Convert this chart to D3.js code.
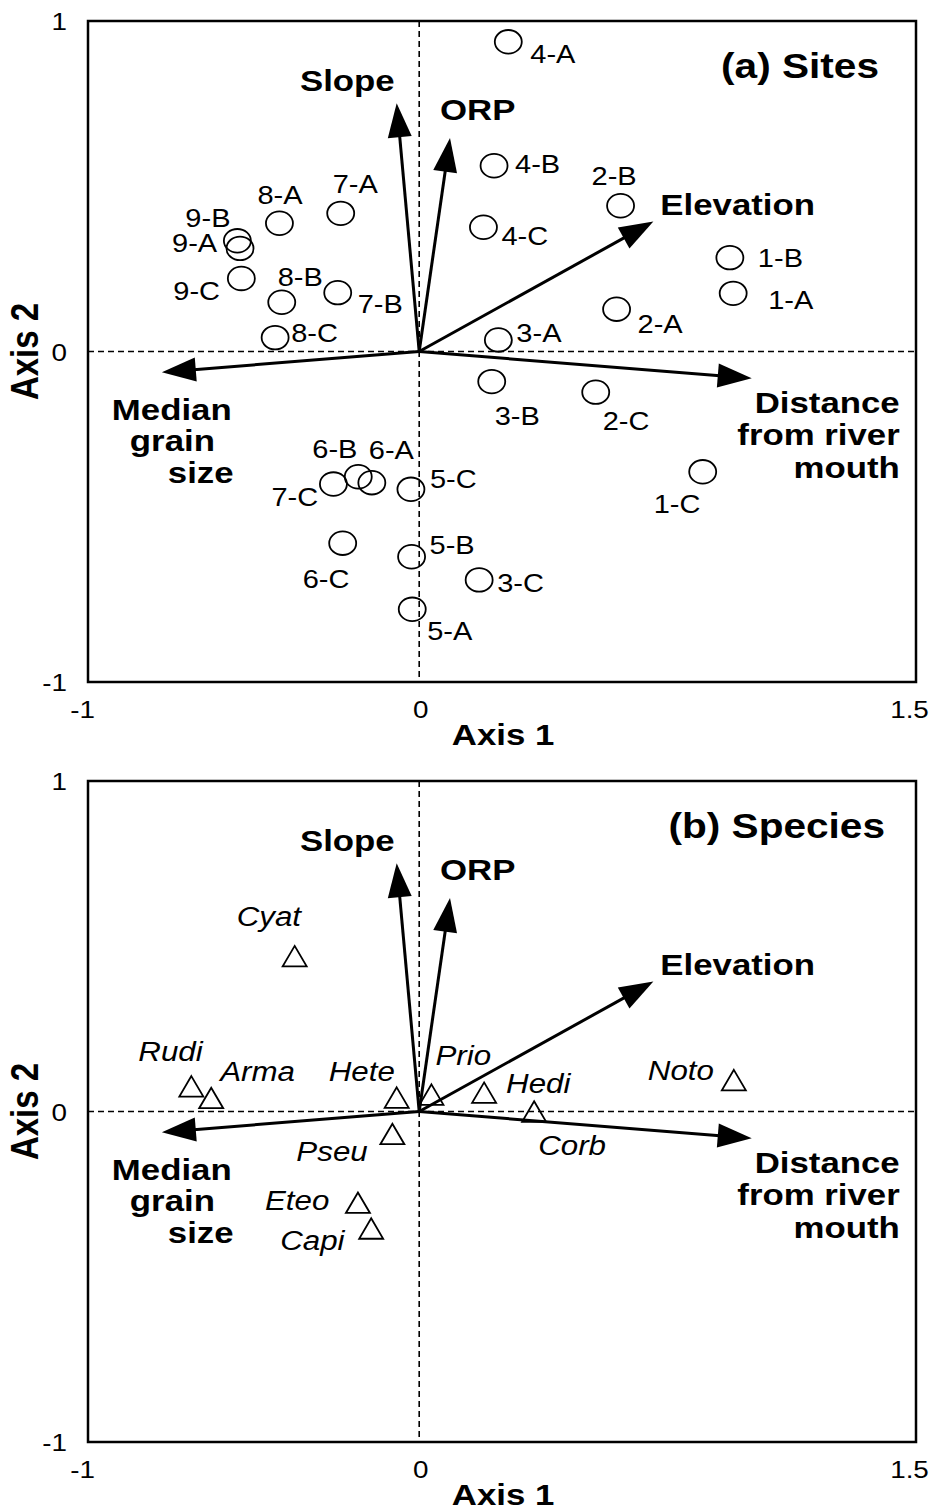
<!DOCTYPE html>
<html>
<head>
<meta charset="utf-8">
<script src="https://cdn.jsdelivr.net/npm/d3@7"></script>
<style>
body { margin: 0; background: #fff; }
text { font-family: "Liberation Sans", Arial, sans-serif; fill: #000; }
</style>
</head>
<body>
<div class="chart"></div>
<script>
// site scores (panel a)
const siteNames = ['1-A','1-B','1-C','2-A','2-B','2-C','3-A','3-B','3-C',
                   '4-A','4-B','4-C','5-A','5-B','5-C','6-A','6-B','6-C',
                   '7-A','7-B','7-C','8-A','8-B','8-C','9-A','9-B','9-C'];
const siteAxis1 = [0.948, 0.938, 0.856, 0.596, 0.608, 0.533, 0.239, 0.219, 0.181,
                   0.269, 0.226, 0.194, -0.021, -0.023, -0.025, -0.143, -0.184, -0.231,
                   -0.237, -0.246, -0.259, -0.422, -0.415, -0.435, -0.541, -0.549, -0.537];
const siteAxis2 = [0.176, 0.284, -0.364, 0.128, 0.441, -0.123, 0.035, -0.091, -0.691,
                   0.937, 0.562, 0.376, -0.780, -0.621, -0.417, -0.397, -0.379, -0.580,
                   0.418, 0.178, -0.401, 0.388, 0.149, 0.042, 0.312, 0.335, 0.221];

// species scores (panel b)
const speciesNames = ['Cyat','Rudi','Arma','Hete','Prio','Hedi','Corb','Noto','Pseu','Eteo','Capi'];
const speciesAxis1 = [-0.376, -0.688, -0.628, -0.068, 0.037, 0.196, 0.347, 0.950, -0.081, -0.185, -0.145];
const speciesAxis2 = [0.470, 0.076, 0.041, 0.042, 0.051, 0.057, 0.000, 0.095, -0.068, -0.276, -0.354];

// environmental vectors (same in both panels)
const envNames = ['Slope','ORP','Elevation','Distance from river mouth','Median grain size'];
const envAxis1 = [-0.068, 0.093, 0.707, 1.004, -0.777];
const envAxis2 = [0.751, 0.646, 0.393, -0.081, -0.063];

// tick values
const xTicks = [-1, 0, 1.5];
const yTicks = [-1, 0, 1];

// label placement, px from the mark
const siteLabelShift = [[35,16],[28,9],[-49,41],[21,24],[-29,-21],[7,38],[18,2],[3,43],[18,12],
                        [22,21],[21,7],[18,18],[15,31],[18,-3],[19,-1],[-3,-24],[-46,-19],[-40,45],
                        [-8,-20],[20,20],[-62,22],[-22,-19],[-4,-16],[16,4],[-68,4],[-52,-14],[-68,22]];
const speciesLabelShift = [[-58,-30],[-53,-25],[9,-17],[-68,-17],[4,-30],[22,0],[4,43],[-86,0],[-96,27],[-93,7],[-91,22]];
const envLabelLayout = [
  {anchor: 'end',   lines: [['Slope', -2, -12]]},
  {anchor: 'start', lines: [['ORP', -10, -18]]},
  {anchor: 'start', lines: [['Elevation', 7, -7]]},
  {anchor: 'end',   lines: [['Distance', 148, 35], ['from river', 148, 67], ['mouth', 148, 100]]},
  {anchor: 'start', lines: [['Median', -50, 48], ['grain', -32, 79], ['size', 6, 111]]}
];

const SX = 1.16;   // the original figure is stretched horizontally

const svg = d3.select('.chart').append('svg')
    .attr('width', 933)
    .attr('height', 1510);

const xScale = d3.scaleLinear().domain([-1, 1.5]).range([88, 916]);

const panels = [
  {top: 21, bottom: 682, title: '(a) Sites', titleX: 879, titleY: 78, kind: 'sites'},
  {top: 781, bottom: 1442, title: '(b) Species', titleX: 885, titleY: 838, kind: 'species'}
];

function addText(g, str, px, py, opt) {
  return g.append('text')
    .attr('transform', 'translate(' + px + ',' + py + ') scale(' + SX + ',1)' + (opt.rotate ? ' rotate(' + opt.rotate + ')' : ''))
    .attr('text-anchor', opt.anchor || 'start')
    .attr('font-size', opt.size || 25)
    .attr('font-weight', opt.weight || 'normal')
    .attr('font-style', opt.style || 'normal')
    .text(str);
}

panels.forEach(p => {
  const yScale = d3.scaleLinear().domain([-1, 1]).range([p.bottom, p.top]);
  const g = svg.append('g');
  const x0 = xScale(0), y0 = yScale(0);

  // frame
  g.append('rect')
    .attr('x', xScale(-1)).attr('y', yScale(1))
    .attr('width', xScale(1.5) - xScale(-1))
    .attr('height', yScale(-1) - yScale(1))
    .attr('fill', 'none').attr('stroke', '#000').attr('stroke-width', 2.5);

  // zero lines
  g.append('line')
    .attr('x1', x0).attr('x2', x0).attr('y1', yScale(1)).attr('y2', yScale(-1))
    .attr('stroke', '#000').attr('stroke-width', 1.6).attr('stroke-dasharray', '6,4');
  g.append('line')
    .attr('x1', xScale(-1)).attr('x2', xScale(1.5)).attr('y1', y0).attr('y2', y0)
    .attr('stroke', '#000').attr('stroke-width', 1.6).attr('stroke-dasharray', '6,4');

  // axes (labels only)
  const xAxis = d3.axisBottom(xScale).tickValues(xTicks).tickSize(0).tickFormat(d => String(d));
  const yAxis = d3.axisLeft(yScale).tickValues(yTicks).tickSize(0).tickFormat(d => String(d));
  const tickDx = [-6, 1, -7];

  const gx = g.append('g').attr('transform', 'translate(0,' + p.bottom + ')').call(xAxis);
  gx.select('.domain').remove();
  gx.selectAll('text')
    .attr('y', 0).attr('dy', 0).attr('x', 0)
    .attr('font-size', 24)
    .attr('transform', (d, i) => 'translate(' + tickDx[i] + ',36) scale(' + SX + ',1)');

  const gy = g.append('g').attr('transform', 'translate(' + xScale(-1) + ',0)').call(yAxis);
  gy.select('.domain').remove();
  gy.selectAll('text')
    .attr('x', 0).attr('dy', '0.36em')
    .attr('font-size', 24)
    .attr('transform', 'translate(-21,0) scale(' + SX + ',1)');

  // axis titles
  addText(g, 'Axis 1', 503, p.bottom + 63, {anchor: 'middle', size: 30, weight: 'bold'});
  addText(g, 'Axis 2', 38, y0, {anchor: 'middle', size: 33, weight: 'bold', rotate: -90});

  // panel title
  addText(g, p.title, p.titleX, p.titleY, {anchor: 'end', size: 35, weight: 'bold'});

  // environmental arrows
  const headLen = 34, headHalf = 12;
  envNames.forEach((name, i) => {
    const tx = xScale(envAxis1[i]), ty = yScale(envAxis2[i]);
    const L = Math.hypot(tx - x0, ty - y0);
    const ux = (tx - x0) / L, uy = (ty - y0) / L;
    const bx = tx - ux * headLen, by = ty - uy * headLen;
    g.append('line')
      .attr('x1', x0).attr('y1', y0)
      .attr('x2', bx + ux * 2).attr('y2', by + uy * 2)
      .attr('stroke', '#000').attr('stroke-width', 3);
    g.append('path')
      .attr('d', d3.line()([[tx, ty], [bx - uy * headHalf, by + ux * headHalf], [bx + uy * headHalf, by - ux * headHalf]]) + 'Z')
      .attr('fill', '#000');
    const lay = envLabelLayout[i];
    lay.lines.forEach(l => {
      addText(g, l[0], tx + l[1], ty + l[2], {anchor: lay.anchor, size: 30, weight: 'bold'});
    });
  });

  if (p.kind === 'sites') {
    siteNames.forEach((name, i) => {
      const cx = xScale(siteAxis1[i]), cy = yScale(siteAxis2[i]);
      g.append('ellipse')
        .attr('cx', cx).attr('cy', cy).attr('rx', 12.5 * 1.08).attr('ry', 11.8)
        .attr('fill', 'none').attr('stroke', '#000').attr('stroke-width', 1.8);
      addText(g, name, cx + siteLabelShift[i][0], cy + siteLabelShift[i][1], {size: 25});
    });
  } else {
    const tw = 24, th = 20.5;
    speciesNames.forEach((name, i) => {
      const cx = xScale(speciesAxis1[i]), cy = yScale(speciesAxis2[i]);
      g.append('path')
        .attr('d', d3.line()([[cx, cy - th / 2], [cx + tw / 2, cy + th / 2], [cx - tw / 2, cy + th / 2]]) + 'Z')
        .attr('fill', 'none').attr('stroke', '#000').attr('stroke-width', 1.8).attr('stroke-linejoin', 'miter');
      addText(g, name, cx + speciesLabelShift[i][0], cy + speciesLabelShift[i][1], {size: 27, style: 'italic'});
    });
  }
});
</script>
</body>
</html>
